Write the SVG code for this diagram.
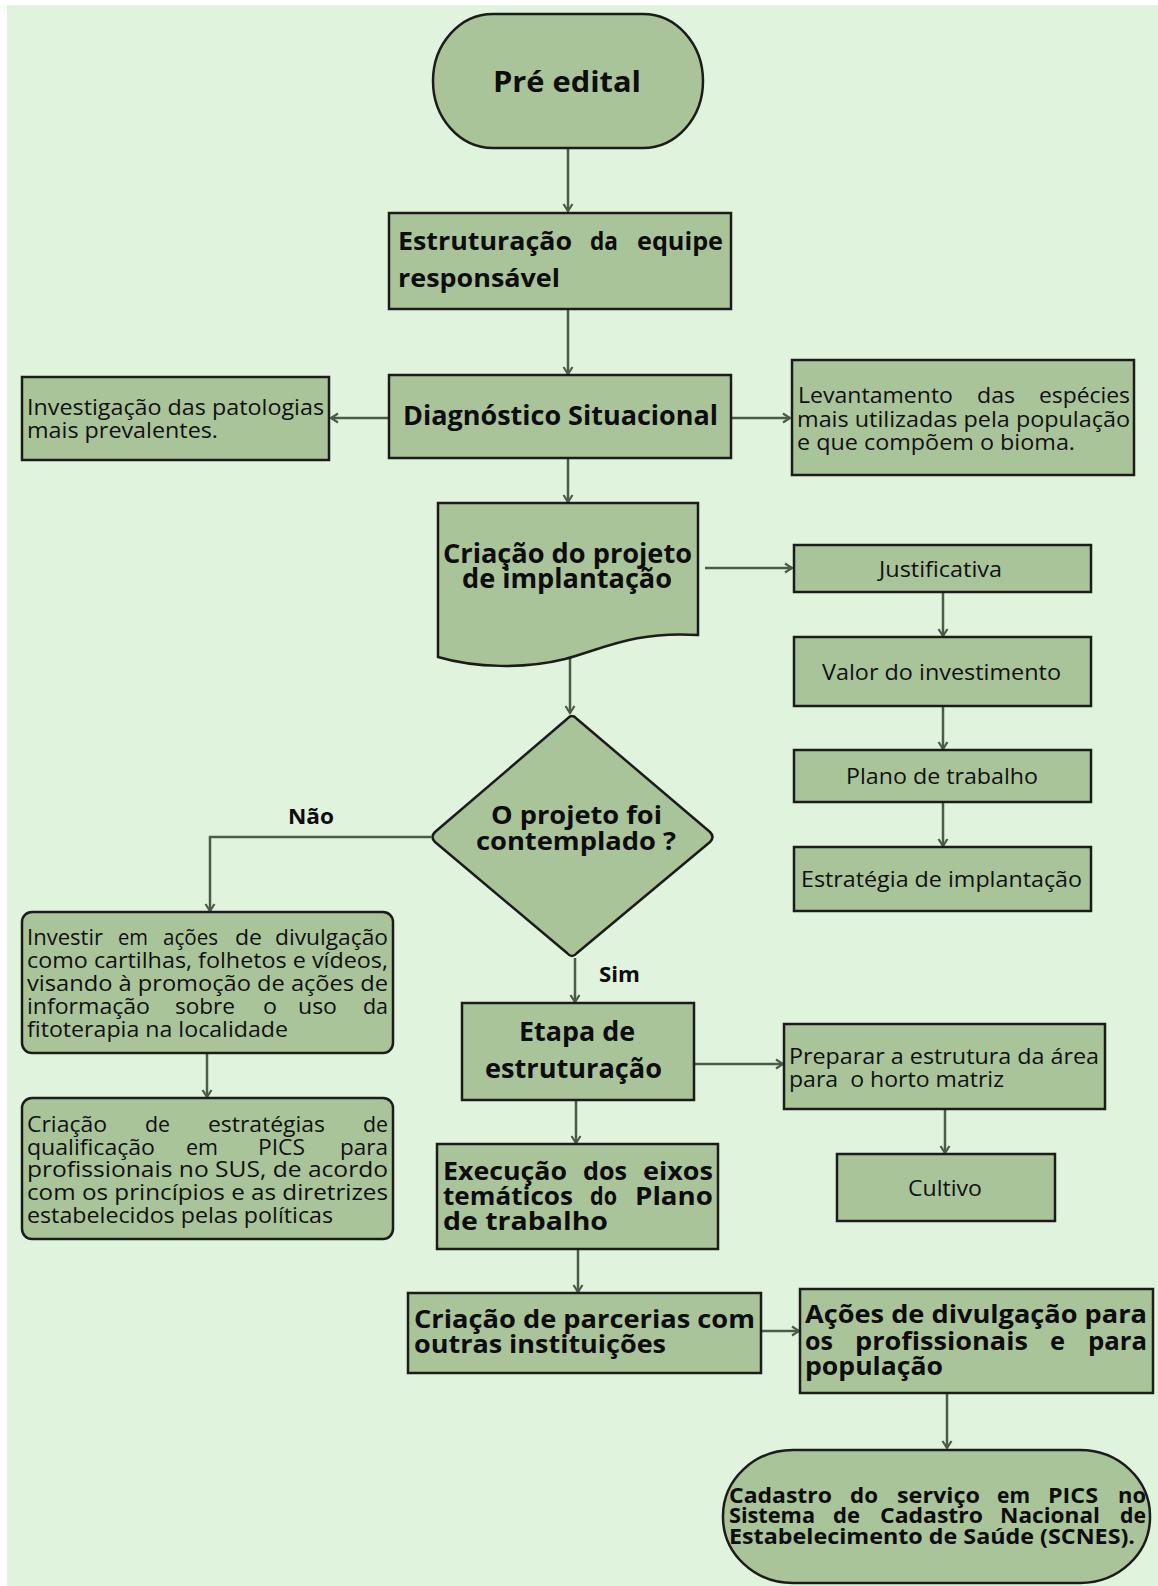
<svg xmlns="http://www.w3.org/2000/svg" width="1158" height="1586" viewBox="0 0 1158 1586">
<defs>
<style>
.n{fill:#a9c499;stroke:#1c1c1c;stroke-width:2.5}
.r{font-family:"Open Sans","Noto Sans","DejaVu Sans",sans-serif;font-size:21.5px;fill:#111}
.b{font-family:"Open Sans","Noto Sans","DejaVu Sans",sans-serif;font-size:25px;font-weight:bold;fill:#0d0d0d}
.c{stroke:#4b5b48;stroke-width:2.5;fill:none;marker-end:url(#ah)}
</style>
<marker id="ah" markerUnits="userSpaceOnUse" viewBox="0 0 12 12" refX="10" refY="6" markerWidth="12" markerHeight="12" orient="auto">
<path d="M3,1.5 L10,6 L3,10.5" fill="none" stroke="#4b5b48" stroke-width="2.2"/>
</marker>
</defs>
<rect x="0" y="0" width="1158" height="1586" fill="#ffffff"/>
<rect x="7" y="5" width="1151" height="1581" fill="#e0f3dc"/>

<g id="connectors">
<path class="c" d="M568,149 V211"/>
<path class="c" d="M568,309 V374"/>
<path class="c" d="M389,418 H331"/>
<path class="c" d="M731,418 H790"/>
<path class="c" d="M568,458 V502"/>
<path class="c" d="M705,568 H792"/>
<path class="c" d="M943,592 V636"/>
<path class="c" d="M943,706 V749"/>
<path class="c" d="M943,802 V846"/>
<path class="c" d="M570,653 V713"/>
<path class="c" d="M431,837 H210 V911"/>
<path class="c" d="M575,958 V1002"/>
<path class="c" d="M207,1053 V1097"/>
<path class="c" d="M694,1064 H783"/>
<path class="c" d="M945,1109 V1153"/>
<path class="c" d="M576,1100 V1143"/>
<path class="c" d="M578,1249 V1292"/>
<path class="c" d="M761,1331 H799"/>
<path class="c" d="M947,1394 V1448"/>
</g>

<g id="pre-edital">
<rect class="n" x="433" y="14" width="270" height="134" rx="60" ry="67"/>
<text class="b" style="font-size:29px" x="493" y="92" textLength="148" lengthAdjust="spacingAndGlyphs">Pré edital</text>
</g>

<g id="estruturacao-equipe">
<rect class="n" x="389" y="213" width="342" height="96"/>
<text class="b" y="250"><tspan x="398" textLength="174" lengthAdjust="spacingAndGlyphs">Estruturação</tspan> <tspan x="590" textLength="28" lengthAdjust="spacingAndGlyphs">da</tspan> <tspan x="637" textLength="86" lengthAdjust="spacingAndGlyphs">equipe</tspan></text>
<text class="b" x="398" y="287" textLength="162" lengthAdjust="spacingAndGlyphs">responsável</text>
</g>

<g id="diagnostico">
<rect class="n" x="389" y="375" width="342" height="83"/>
<text class="b" style="font-size:26px" x="403" y="425" textLength="315" lengthAdjust="spacingAndGlyphs">Diagnóstico Situacional</text>
</g>

<g id="investigacao">
<rect class="n" x="22" y="377" width="307" height="83"/>
<text class="r" x="27" y="415" textLength="297" lengthAdjust="spacingAndGlyphs">Investigação das patologias</text>
<text class="r" x="27" y="438" textLength="191" lengthAdjust="spacingAndGlyphs">mais prevalentes.</text>
</g>

<g id="levantamento">
<rect class="n" x="792" y="360" width="342" height="115"/>
<text class="r" y="403"><tspan x="798" textLength="155" lengthAdjust="spacingAndGlyphs">Levantamento</tspan> <tspan x="977" textLength="38" lengthAdjust="spacingAndGlyphs">das</tspan> <tspan x="1039" textLength="91" lengthAdjust="spacingAndGlyphs">espécies</tspan></text>
<text class="r" x="797" y="427" textLength="333" lengthAdjust="spacingAndGlyphs">mais utilizadas pela população</text>
<text class="r" x="797" y="450" textLength="278" lengthAdjust="spacingAndGlyphs">e que compõem o bioma.</text>
</g>

<g id="criacao-projeto">
<path class="n" d="M438,503 H698 V635 C635,631 605,648 565,659 C525,669 475,668 438,657 Z"/>
<text class="b" style="font-size:26px" x="443" y="563" textLength="249" lengthAdjust="spacingAndGlyphs">Criação do projeto</text>
<text class="b" style="font-size:26px" x="462" y="588" textLength="210" lengthAdjust="spacingAndGlyphs">de implantação</text>
</g>

<g id="justificativa">
<rect class="n" x="794" y="545" width="297" height="47"/>
<text class="r" x="879" y="577" textLength="123" lengthAdjust="spacingAndGlyphs">Justificativa</text>
</g>

<g id="valor-investimento">
<rect class="n" x="794" y="637" width="297" height="69"/>
<text class="r" x="822" y="680" textLength="239" lengthAdjust="spacingAndGlyphs">Valor do investimento</text>
</g>

<g id="plano-trabalho">
<rect class="n" x="794" y="750" width="297" height="52"/>
<text class="r" x="846" y="784" textLength="192" lengthAdjust="spacingAndGlyphs">Plano de trabalho</text>
</g>

<g id="estrategia-implantacao">
<rect class="n" x="794" y="847" width="297" height="64"/>
<text class="r" x="801" y="887" textLength="281" lengthAdjust="spacingAndGlyphs">Estratégia de implantação</text>
</g>

<g id="decisao">
<path class="n" stroke-linejoin="round" d="M567,719 Q572,713 577,719 L710,832 Q715,837 710,842 L577,953 Q572,959 567,953 L435,842 Q430,837 435,832 Z"/>
<text class="b" x="491" y="824" textLength="171" lengthAdjust="spacingAndGlyphs">O projeto foi</text>
<text class="b" x="476" y="850" textLength="200" lengthAdjust="spacingAndGlyphs">contemplado ?</text>
</g>

<g id="label-nao">
<text class="b" style="font-size:21px" x="288" y="824" textLength="46" lengthAdjust="spacingAndGlyphs">Não</text>
</g>
<g id="label-sim">
<text class="b" style="font-size:21px" x="599" y="982" textLength="41" lengthAdjust="spacingAndGlyphs">Sim</text>
</g>

<g id="investir">
<rect class="n" x="22" y="912" width="371" height="141" rx="10" ry="10"/>
<text class="r" y="945"><tspan x="27" textLength="76" lengthAdjust="spacingAndGlyphs">Investir</tspan> <tspan x="118" textLength="30" lengthAdjust="spacingAndGlyphs">em</tspan> <tspan x="163" textLength="55" lengthAdjust="spacingAndGlyphs">ações</tspan> <tspan x="235" textLength="27" lengthAdjust="spacingAndGlyphs">de</tspan> <tspan x="275" textLength="113" lengthAdjust="spacingAndGlyphs">divulgação</tspan></text>
<text class="r" x="27" y="968" textLength="361" lengthAdjust="spacingAndGlyphs">como cartilhas, folhetos e vídeos,</text>
<text class="r" x="27" y="991" textLength="361" lengthAdjust="spacingAndGlyphs">visando à promoção de ações de</text>
<text class="r" y="1014"><tspan x="27" textLength="123" lengthAdjust="spacingAndGlyphs">informação</tspan> <tspan x="175" textLength="60" lengthAdjust="spacingAndGlyphs">sobre</tspan> <tspan x="263" textLength="14" lengthAdjust="spacingAndGlyphs">o</tspan> <tspan x="298" textLength="39" lengthAdjust="spacingAndGlyphs">uso</tspan> <tspan x="363" textLength="25" lengthAdjust="spacingAndGlyphs">da</tspan></text>
<text class="r" x="27" y="1037" textLength="261" lengthAdjust="spacingAndGlyphs">fitoterapia na localidade</text>
</g>

<g id="criacao-estrategias">
<rect class="n" x="22" y="1098" width="371" height="141" rx="10" ry="10"/>
<text class="r" y="1132"><tspan x="27" textLength="80" lengthAdjust="spacingAndGlyphs">Criação</tspan> <tspan x="145" textLength="25" lengthAdjust="spacingAndGlyphs">de</tspan> <tspan x="208" textLength="117" lengthAdjust="spacingAndGlyphs">estratégias</tspan> <tspan x="363" textLength="25" lengthAdjust="spacingAndGlyphs">de</tspan></text>
<text class="r" y="1155"><tspan x="27" textLength="128" lengthAdjust="spacingAndGlyphs">qualificação</tspan> <tspan x="186" textLength="32" lengthAdjust="spacingAndGlyphs">em</tspan> <tspan x="258" textLength="47" lengthAdjust="spacingAndGlyphs">PICS</tspan> <tspan x="340" textLength="48" lengthAdjust="spacingAndGlyphs">para</tspan></text>
<text class="r" x="27" y="1177" textLength="361" lengthAdjust="spacingAndGlyphs">profissionais no SUS, de acordo</text>
<text class="r" x="27" y="1200" textLength="361" lengthAdjust="spacingAndGlyphs">com os princípios e as diretrizes</text>
<text class="r" x="27" y="1223" textLength="306" lengthAdjust="spacingAndGlyphs">estabelecidos pelas políticas</text>
</g>

<g id="etapa-estruturacao">
<rect class="n" x="462" y="1003" width="232" height="97"/>
<text class="b" style="font-size:26px" x="519" y="1041" textLength="116" lengthAdjust="spacingAndGlyphs">Etapa de</text>
<text class="b" style="font-size:26px" x="485" y="1078" textLength="177" lengthAdjust="spacingAndGlyphs">estruturação</text>
</g>

<g id="preparar-estrutura">
<rect class="n" x="784" y="1024" width="321" height="85"/>
<text class="r" x="789" y="1064" textLength="310" lengthAdjust="spacingAndGlyphs">Preparar a estrutura da área</text>
<text class="r" x="789" y="1087" textLength="215" lengthAdjust="spacingAndGlyphs" xml:space="preserve">para  o horto matriz</text>
</g>

<g id="cultivo">
<rect class="n" x="837" y="1154" width="218" height="67"/>
<text class="r" x="908" y="1196" textLength="74" lengthAdjust="spacingAndGlyphs">Cultivo</text>
</g>

<g id="execucao-eixos">
<rect class="n" x="437" y="1144" width="281" height="105"/>
<text class="b" y="1180"><tspan x="443" textLength="124" lengthAdjust="spacingAndGlyphs">Execução</tspan> <tspan x="583" textLength="44" lengthAdjust="spacingAndGlyphs">dos</tspan> <tspan x="643" textLength="70" lengthAdjust="spacingAndGlyphs">eixos</tspan></text>
<text class="b" y="1205"><tspan x="443" textLength="130" lengthAdjust="spacingAndGlyphs">temáticos</tspan> <tspan x="590" textLength="27" lengthAdjust="spacingAndGlyphs">do</tspan> <tspan x="635" textLength="78" lengthAdjust="spacingAndGlyphs">Plano</tspan></text>
<text class="b" x="443" y="1230" textLength="165" lengthAdjust="spacingAndGlyphs">de trabalho</text>
</g>

<g id="parcerias">
<rect class="n" x="408" y="1293" width="353" height="80"/>
<text class="b" x="414" y="1328" textLength="341" lengthAdjust="spacingAndGlyphs">Criação de parcerias com</text>
<text class="b" x="414" y="1353" textLength="252" lengthAdjust="spacingAndGlyphs">outras instituições</text>
</g>

<g id="acoes-divulgacao">
<rect class="n" x="800" y="1289" width="353" height="104"/>
<text class="b" x="805" y="1323" textLength="342" lengthAdjust="spacingAndGlyphs">Ações de divulgação para</text>
<text class="b" y="1350"><tspan x="805" textLength="28" lengthAdjust="spacingAndGlyphs">os</tspan> <tspan x="855" textLength="173" lengthAdjust="spacingAndGlyphs">profissionais</tspan> <tspan x="1050" textLength="15" lengthAdjust="spacingAndGlyphs">e</tspan> <tspan x="1088" textLength="59" lengthAdjust="spacingAndGlyphs">para</tspan></text>
<text class="b" x="805" y="1375" textLength="138" lengthAdjust="spacingAndGlyphs">população</text>
</g>

<g id="cadastro">
<rect class="n" x="723" y="1450" width="427" height="133" rx="70" ry="66"/>
<text class="b" style="font-size:22px" y="1503"><tspan x="729" textLength="103" lengthAdjust="spacingAndGlyphs">Cadastro</tspan> <tspan x="850" textLength="28" lengthAdjust="spacingAndGlyphs">do</tspan> <tspan x="897" textLength="83" lengthAdjust="spacingAndGlyphs">serviço</tspan> <tspan x="997" textLength="33" lengthAdjust="spacingAndGlyphs">em</tspan> <tspan x="1048" textLength="50" lengthAdjust="spacingAndGlyphs">PICS</tspan> <tspan x="1118" textLength="28" lengthAdjust="spacingAndGlyphs">no</tspan></text>
<text class="b" style="font-size:22px" y="1523"><tspan x="729" textLength="86" lengthAdjust="spacingAndGlyphs">Sistema</tspan> <tspan x="833" textLength="27" lengthAdjust="spacingAndGlyphs">de</tspan> <tspan x="880" textLength="103" lengthAdjust="spacingAndGlyphs">Cadastro</tspan> <tspan x="1000" textLength="100" lengthAdjust="spacingAndGlyphs">Nacional</tspan> <tspan x="1120" textLength="26" lengthAdjust="spacingAndGlyphs">de</tspan></text>
<text class="b" style="font-size:22px" x="729" y="1544" textLength="406" lengthAdjust="spacingAndGlyphs">Estabelecimento de Saúde (SCNES).</text>
</g>
</svg>
